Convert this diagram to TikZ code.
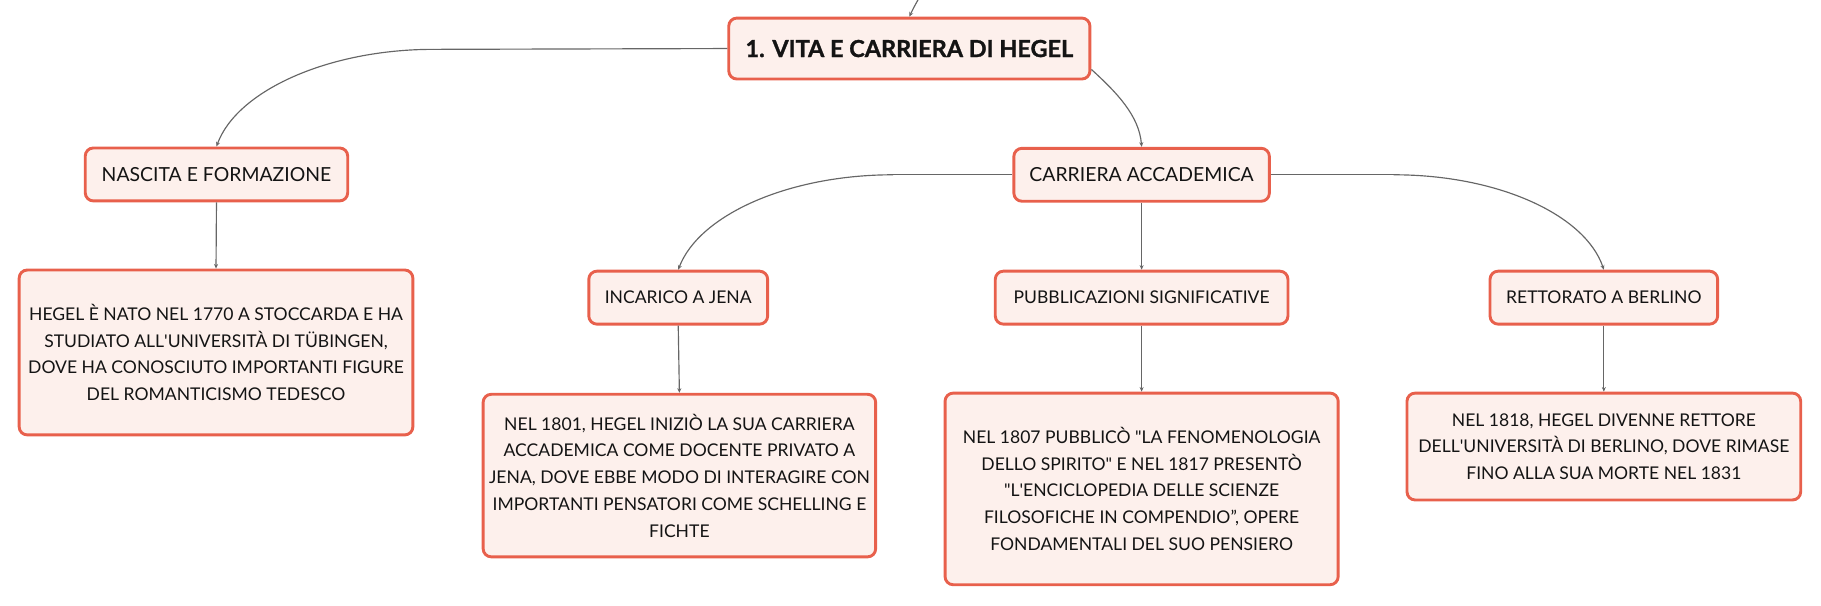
\documentclass[tikz,border=0pt]{standalone}
\usepackage{fontspec}
\setmainfont{Lato}
\newfontfamily\rootfam{Lato}[BoldFeatures={FakeBold=1.2}]
\usetikzlibrary{arrows.meta}
\definecolor{boxline}{HTML}{E8604C}
\definecolor{boxfill}{HTML}{FDF0EC}
\definecolor{linegray}{HTML}{666666}
\definecolor{txt}{HTML}{141414}
\newcommand{\leaffont}{\fontsize{15.1}{23}\selectfont}
\newcommand{\midfont}{\fontsize{16.7}{23}\selectfont}
\newcommand{\rootfont}{\rootfam\fontsize{20.2}{24}\selectfont\bfseries}
\newcommand{\sq}{\textquotesingle}
\newcommand{\dq}{\textquotedbl}
\tikzset{
  box/.style={draw=boxline, fill=boxfill, line width=2.5pt, rounded corners=7pt,
    inner sep=0pt, align=center, font=\leaffont, text=txt},
  midbox/.style={box, font=\midfont},
  conn/.style={draw=linegray, line width=1pt, -{Stealth[length=4pt,width=3.5pt]}},
  plainconn/.style={draw=linegray, line width=1pt},
}
\begin{document}
\begin{tikzpicture}[x=1pt,y=-1pt]
\useasboundingbox (0,0) rectangle (1568,521);
% nodes
\node[box, font=\rootfont, minimum width=311pt, minimum height=52.5pt] (root) at (783,41.8) {1. VITA E CARRIERA DI HEGEL};
\node[midbox, minimum width=226pt, minimum height=45.6pt] (nascita) at (186.4,150.2) {NASCITA E FORMAZIONE};
\node[box, minimum width=339pt, minimum height=142pt] (hegel) at (186,303.5) {HEGEL È NATO NEL 1770 A STOCCARDA E HA\\STUDIATO ALL\sq UNIVERSITÀ DI TÜBINGEN,\\DOVE HA CONOSCIUTO IMPORTANTI FIGURE\\DEL ROMANTICISMO TEDESCO};
\node[midbox, minimum width=220pt, minimum height=45.6pt] (carriera) at (983,150.5) {CARRIERA ACCADEMICA};
\node[box, minimum width=154pt, minimum height=45.6pt] (jena) at (584,256.3) {INCARICO A JENA};
\node[box, minimum width=252pt, minimum height=45.6pt] (pubbl) at (983,256.3) {PUBBLICAZIONI SIGNIFICATIVE};
\node[box, minimum width=196pt, minimum height=45.6pt] (rett) at (1381,256.3) {RETTORATO A BERLINO};
\node[box, minimum width=338pt, minimum height=140pt] (jenaleaf) at (585,409.5) {NEL 1801, HEGEL INIZIÒ LA SUA CARRIERA\\ACCADEMICA COME DOCENTE PRIVATO A\\JENA, DOVE EBBE MODO DI INTERAGIRE CON\\IMPORTANTI PENSATORI COME SCHELLING E\\FICHTE};
\node[box, minimum width=338.5pt, minimum height=165pt] (pubbleaf) at (983,421) {NEL 1807 PUBBLICÒ \dq LA FENOMENOLOGIA\\DELLO SPIRITO\dq{} E NEL 1817 PRESENTÒ\\\dq L\sq ENCICLOPEDIA DELLE SCIENZE\\FILOSOFICHE IN COMPENDIO”, OPERE\\FONDAMENTALI DEL SUO PENSIERO};
\node[box, minimum width=339pt, minimum height=92pt] (berlleaf) at (1381,384.5) {NEL 1818, HEGEL DIVENNE RETTORE\\DELL\sq UNIVERSITÀ DI BERLINO, DOVE RIMASE\\FINO ALLA SUA MORTE NEL 1831};
% helper coordinates
\coordinate (top) at (791.5,-2);
\coordinate (lbend) at (373,42.5);
\coordinate (jbend) at (769,150.5);
\coordinate (rbend) at (1200,150.5);
% connectors
\draw[conn] (top) .. controls (786.5,7) .. (root.north);
\draw[plainconn] (root.west) -- (lbend);
\draw[conn] (lbend) .. controls (283,42.5) and (204,78) .. (nascita.north);
\draw[conn] ([yshift=-18pt]root.east) .. controls (962,80) and (981,100) .. (carriera.north);
\draw[plainconn] (carriera.west) -- (jbend);
\draw[conn] (jbend) .. controls (679,150.5) and (602,185) .. (jena.north);
\draw[plainconn] (carriera.east) -- (rbend);
\draw[conn] (rbend) .. controls (1290,150.5) and (1365,185) .. (rett.north);
\draw[conn] (carriera.south) -- (pubbl.north);
\draw[conn] (nascita.south) -- (hegel.north);
\draw[conn] (jena.south) -- (jenaleaf.north);
\draw[conn] (pubbl.south) -- (pubbleaf.north);
\draw[conn] (rett.south) -- (berlleaf.north);
\end{tikzpicture}
\end{document}
